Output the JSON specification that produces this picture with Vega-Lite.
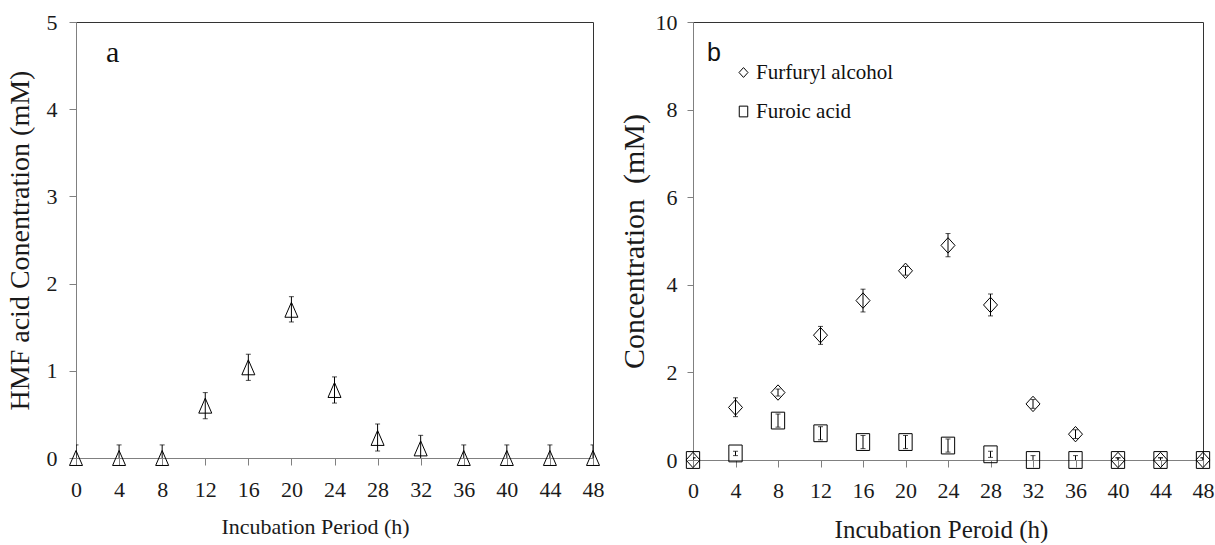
{
  "$schema": "https://vega.github.io/schema/vega-lite/v6.json",
  "padding": {"left": 5, "top": 10, "right": 0, "bottom": 0},
  "background": "white",
  "spacing": 13,
  "resolve": {"legend": {"shape": "independent"}},
  "config": {
    "font": "Liberation Serif",
    "view": {"stroke": "#333333", "strokeWidth": 1},
    "axis": {
      "grid": false,
      "domainColor": "#808080",
      "tickColor": "#808080",
      "labelColor": "#1a1a1a",
      "titleColor": "#1a1a1a",
      "labelFont": "Liberation Serif",
      "titleFont": "Liberation Serif",
      "titleFontWeight": "normal"
    }
  },
  "hconcat": [
    {
      "width": 517,
      "height": 436,
      "title": {"text": "a", "anchor": "start", "frame": "group", "offset": -57, "dx": 30, "font": "Liberation Serif", "fontSize": 30, "fontWeight": "normal", "color": "#111111"},
      "data": {"values": [
        {"t": 0, "c": 0, "lo": -0.15, "hi": 0.15},
        {"t": 4, "c": 0, "lo": -0.15, "hi": 0.15},
        {"t": 8, "c": 0, "lo": -0.15, "hi": 0.15},
        {"t": 12, "c": 0.6, "lo": 0.45, "hi": 0.75},
        {"t": 16, "c": 1.04, "lo": 0.89, "hi": 1.19},
        {"t": 20, "c": 1.7, "lo": 1.56, "hi": 1.85},
        {"t": 24, "c": 0.78, "lo": 0.63, "hi": 0.93},
        {"t": 28, "c": 0.23, "lo": 0.08, "hi": 0.39},
        {"t": 32, "c": 0.11, "lo": -0.04, "hi": 0.26},
        {"t": 36, "c": 0, "lo": -0.15, "hi": 0.15},
        {"t": 40, "c": 0, "lo": -0.15, "hi": 0.15},
        {"t": 44, "c": 0, "lo": -0.15, "hi": 0.15},
        {"t": 48, "c": 0, "lo": -0.15, "hi": 0.15}
      ]},
      "encoding": {
        "x": {
          "field": "t", "type": "quantitative",
          "scale": {"domain": [0, 48], "nice": false},
          "axis": {"values": [0, 4, 8, 12, 16, 20, 24, 28, 32, 36, 40, 44, 48], "format": "d", "title": "Incubation Period (h)", "labelFont": "Liberation Serif", "titleFont": "Liberation Serif", "labelFontSize": 22, "titleFontSize": 22, "tickSize": 7, "labelPadding": 14, "titlePadding": 16, "titleX": 239, "labelFlush": false}
        }
      },
      "layer": [
        {
          "mark": {"type": "point", "shape": "M0,-1.15L1,1.15L-1,1.15Z", "size": 169, "filled": false, "color": "black", "strokeWidth": 1, "opacity": 1},
          "encoding": {
            "y": {
              "field": "c", "type": "quantitative",
              "scale": {"domain": [0, 5], "nice": false},
              "axis": {"values": [0, 1, 2, 3, 4, 5], "format": "d", "title": "HMF acid Conentration (mM)", "labelFont": "Liberation Serif", "titleFont": "Liberation Serif", "labelFontSize": 22, "titleFontSize": 28, "tickSize": 7, "labelPadding": 12, "titlePadding": 12}
            }
          }
        },
        {
          "mark": {"type": "rule", "color": "black", "strokeWidth": 1, "clip": true},
          "encoding": {"y": {"field": "lo", "type": "quantitative"}, "y2": {"field": "hi"}}
        },
        {
          "mark": {"type": "tick", "orient": "horizontal", "size": 5, "thickness": 1, "color": "black", "clip": true},
          "encoding": {"y": {"field": "hi", "type": "quantitative"}}
        },
        {
          "mark": {"type": "tick", "orient": "horizontal", "size": 5, "thickness": 1, "color": "black", "clip": true},
          "encoding": {"y": {"field": "lo", "type": "quantitative"}}
        }
      ]
    },
    {
      "width": 510,
      "height": 438,
      "title": {"text": "b", "anchor": "start", "frame": "group", "offset": -55, "dx": 14, "font": "Liberation Sans", "fontSize": 25, "fontWeight": "normal", "color": "#111111"},
      "data": {"values": [
        {"t": 0, "series": "Furfuryl alcohol", "c": 0, "lo": -0.05, "hi": 0.05},
        {"t": 4, "series": "Furfuryl alcohol", "c": 1.2, "lo": 0.99, "hi": 1.42},
        {"t": 8, "series": "Furfuryl alcohol", "c": 1.54, "lo": 1.46, "hi": 1.62},
        {"t": 12, "series": "Furfuryl alcohol", "c": 2.85, "lo": 2.64, "hi": 3.05},
        {"t": 16, "series": "Furfuryl alcohol", "c": 3.64, "lo": 3.38, "hi": 3.9},
        {"t": 20, "series": "Furfuryl alcohol", "c": 4.32, "lo": 4.22, "hi": 4.42},
        {"t": 24, "series": "Furfuryl alcohol", "c": 4.9, "lo": 4.64, "hi": 5.17},
        {"t": 28, "series": "Furfuryl alcohol", "c": 3.54, "lo": 3.29, "hi": 3.79},
        {"t": 32, "series": "Furfuryl alcohol", "c": 1.28, "lo": 1.18, "hi": 1.38},
        {"t": 36, "series": "Furfuryl alcohol", "c": 0.59, "lo": 0.49, "hi": 0.69},
        {"t": 40, "series": "Furfuryl alcohol", "c": 0, "lo": -0.05, "hi": 0.05},
        {"t": 44, "series": "Furfuryl alcohol", "c": 0, "lo": -0.05, "hi": 0.05},
        {"t": 48, "series": "Furfuryl alcohol", "c": 0, "lo": -0.05, "hi": 0.05},
        {"t": 0, "series": "Furoic acid", "c": 0, "lo": -0.05, "hi": 0.05},
        {"t": 4, "series": "Furoic acid", "c": 0.15, "lo": 0.1, "hi": 0.2},
        {"t": 8, "series": "Furoic acid", "c": 0.9, "lo": 0.75, "hi": 1.05},
        {"t": 12, "series": "Furoic acid", "c": 0.61, "lo": 0.46, "hi": 0.76},
        {"t": 16, "series": "Furoic acid", "c": 0.41, "lo": 0.26, "hi": 0.56},
        {"t": 20, "series": "Furoic acid", "c": 0.41, "lo": 0.26, "hi": 0.56},
        {"t": 24, "series": "Furoic acid", "c": 0.33, "lo": 0.18, "hi": 0.48},
        {"t": 28, "series": "Furoic acid", "c": 0.13, "lo": 0.06, "hi": 0.2},
        {"t": 32, "series": "Furoic acid", "c": 0, "lo": -0.1, "hi": 0.1},
        {"t": 36, "series": "Furoic acid", "c": 0, "lo": -0.1, "hi": 0.1},
        {"t": 40, "series": "Furoic acid", "c": 0, "lo": -0.05, "hi": 0.05},
        {"t": 44, "series": "Furoic acid", "c": 0, "lo": -0.05, "hi": 0.05},
        {"t": 48, "series": "Furoic acid", "c": 0, "lo": -0.05, "hi": 0.05}
      ]},
      "encoding": {
        "x": {
          "field": "t", "type": "quantitative",
          "scale": {"domain": [0, 48], "nice": false},
          "axis": {"values": [0, 4, 8, 12, 16, 20, 24, 28, 32, 36, 40, 44, 48], "format": "d", "title": "Incubation Peroid (h)", "labelFont": "Liberation Serif", "titleFont": "Liberation Serif", "labelFontSize": 22, "titleFontSize": 25, "tickSize": 7, "labelPadding": 13, "titlePadding": 16, "titleX": 248, "labelFlush": false}
        }
      },
      "layer": [
        {
          "mark": {"type": "point", "filled": false, "color": "black", "strokeWidth": 1, "size": 196, "opacity": 1},
          "encoding": {
            "y": {
              "field": "c", "type": "quantitative",
              "scale": {"domain": [0, 10], "nice": false},
              "axis": {"values": [0, 2, 4, 6, 8, 10], "format": "d", "title": "Concentration \u00a0(mM)", "labelFont": "Liberation Serif", "titleFont": "Liberation Serif", "labelFontSize": 22, "titleFontSize": 30, "tickSize": 6, "labelPadding": 10, "titlePadding": 6}
            },
            "shape": {
              "field": "series", "type": "nominal",
              "scale": {"domain": ["Furfuryl alcohol", "Furoic acid"], "range": ["M0,-1.1L1,0L0,1.1L-1,0Z", "M-0.95,-1.2L0.95,-1.2L0.95,1.2L-0.95,1.2Z"]},
              "legend": {"orient": "none", "legendX": 40, "legendY": 40, "title": null, "labelFont": "Liberation Serif", "labelFontSize": 21, "labelColor": "#111111", "symbolSize": 80, "symbolStrokeColor": "black", "symbolStrokeWidth": 1, "symbolFillColor": "transparent", "rowPadding": 17, "labelOffset": 2, "padding": 0}
            }
          }
        },
        {
          "mark": {"type": "rule", "color": "black", "strokeWidth": 1, "clip": true},
          "encoding": {"y": {"field": "lo", "type": "quantitative"}, "y2": {"field": "hi"}}
        },
        {
          "mark": {"type": "tick", "orient": "horizontal", "size": 5, "thickness": 1, "color": "black", "clip": true},
          "encoding": {"y": {"field": "hi", "type": "quantitative"}}
        },
        {
          "mark": {"type": "tick", "orient": "horizontal", "size": 5, "thickness": 1, "color": "black", "clip": true},
          "encoding": {"y": {"field": "lo", "type": "quantitative"}}
        }
      ]
    }
  ]
}
